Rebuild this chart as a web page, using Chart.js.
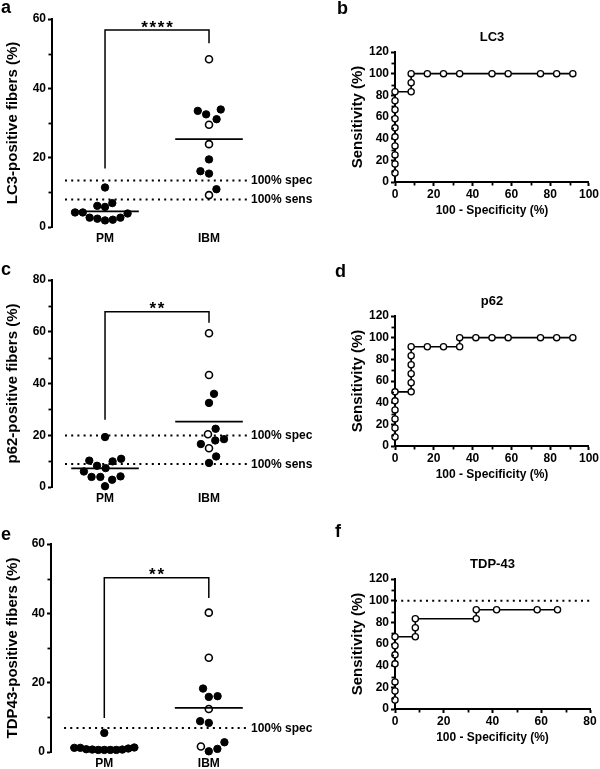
<!DOCTYPE html>
<html>
<head>
<meta charset="utf-8">
<script src="https://cdn.jsdelivr.net/npm/chart.js@4.4.0/dist/chart.umd.min.js"></script>
<style>
html,body{margin:0;padding:0;background:#fff;width:600px;height:769px;overflow:hidden}
body{position:relative}
canvas{position:absolute;display:block}
</style>
</head>
<body>
<canvas id="pa" width="330" height="250" style="left:0;top:0"></canvas>
<canvas id="pc" width="330" height="260" style="left:0;top:250px"></canvas>
<canvas id="pe" width="330" height="259" style="left:0;top:510px"></canvas>
<canvas id="pb" width="300" height="250" style="left:300px;top:0"></canvas>
<canvas id="pd" width="300" height="250" style="left:300px;top:250px"></canvas>
<canvas id="pf" width="300" height="269" style="left:300px;top:500px"></canvas>
<script>
// ---------------- DATA ----------------
const categories = ['PM', 'IBM'];

// Panel a: LC3-positive fibers (%)
const lc3PM        = [11.4, 6.9, 6.1, 5.8, 4.2, 4.2, 3.9, 2.7, 2.7, 2.4, 2.1, 1.9];
const lc3IBMfilled = [33.9, 33.5, 32.5, 31.1, 19.5, 16.1, 15.4, 10.9];
const lc3IBMopen   = [48.4, 29.5, 23.9, 9.2];
const lc3Cutoffs   = [13.4, 7.9];
const lc3CutoffLabels = ['100% spec', '100% sens'];
const lc3Stars = '****';

// Panel c: p62-positive fibers (%)
const p62PM        = [19.3, 10.9, 10.2, 9.9, 8.2, 7.3, 6.0, 4.1, 3.9, 3.9, 2.8, 0.3];
const p62IBMfilled = [36.0, 32.5, 22.5, 18.5, 18.0, 16.6, 11.8, 9.3];
const p62IBMopen   = [59.4, 43.3, 20.4, 15.0];
const p62Cutoffs   = [19.9, 8.9];
const p62CutoffLabels = ['100% spec', '100% sens'];
const p62Stars = '**';

// Panel e: TDP43-positive fibers (%)
const tdpPM        = [5.5, 1.3, 1.2, 1.2, 1.0, 0.8, 0.7, 0.6, 0.6, 0.6, 0.6, 0.7];
const tdpIBMfilled = [18.3, 16.1, 15.9, 8.9, 8.4, 2.8, 0.9, 0.2];
const tdpIBMopen   = [40.2, 27.2, 12.4, 1.6];
const tdpCutoffs   = [6.9];
const tdpCutoffLabels = ['100% spec'];
const tdpStars = '**';

// ROC curves: 100 - Specificity (%) and Sensitivity (%)
const lc3RocFpr = [0, 0, 0, 0, 0, 0, 0, 0, 0, 0, 0, 8.33, 8.33, 8.33, 16.67, 25, 33.33, 50, 58.33, 75, 83.33, 91.67];
const lc3RocTpr = [0, 8.33, 16.67, 25, 33.33, 41.67, 50, 58.33, 66.67, 75, 83.33, 83.33, 91.67, 100, 100, 100, 100, 100, 100, 100, 100, 100];

const p62RocFpr = [0, 0, 0, 0, 0, 0, 0, 8.33, 8.33, 8.33, 8.33, 8.33, 8.33, 16.67, 25, 33.33, 33.33, 41.67, 50, 58.33, 75, 83.33, 91.67];
const p62RocTpr = [0, 8.33, 16.67, 25, 33.33, 41.67, 50, 50, 58.33, 66.67, 75, 83.33, 91.67, 91.67, 91.67, 91.67, 100, 100, 100, 100, 100, 100, 100];

const tdpRocFpr = [0, 0, 0, 0, 0, 0, 0, 0, 8.33, 8.33, 8.33, 33.33, 33.33, 41.67, 58.33, 66.67];
const tdpRocTpr = [0, 8.33, 16.67, 25, 41.67, 50, 58.33, 66.67, 66.67, 75, 83.33, 83.33, 91.67, 91.67, 91.67, 91.67];
const tdpRocRef = [100];

// ---------------- STYLE / HELPERS ----------------
const FAM = '"Liberation Sans", Arial, Helvetica, sans-serif';
Chart.defaults.font.family = FAM;
Chart.defaults.font.weight = 'bold';
Chart.defaults.font.size = 12;
Chart.defaults.color = '#000';
Chart.defaults.animation = false;

const minorTicks = {
  id: 'minorTicks',
  afterDraw(chart, args, opts) {
    const ctx = chart.ctx, a = chart.chartArea;
    ctx.save();
    ctx.strokeStyle = '#000';
    ctx.lineWidth = 1.8;
    if (opts.y) {
      const s = chart.scales.y;
      for (let v = s.min + opts.y; v < s.max; v += 2 * opts.y) {
        const py = Math.round(s.getPixelForValue(v)) + 0.5;
        ctx.beginPath(); ctx.moveTo(a.left - 1, py); ctx.lineTo(a.left - 1 - opts.len, py); ctx.stroke();
      }
    }
    if (opts.x) {
      const s = chart.scales.x;
      for (let v = s.min + opts.x; v < s.max; v += 2 * opts.x) {
        const px = Math.round(s.getPixelForValue(v)) + 0.5;
        ctx.beginPath(); ctx.moveTo(px, a.bottom + 1); ctx.lineTo(px, a.bottom + 1 + opts.len); ctx.stroke();
      }
    }
    ctx.restore();
  }
};

const deco = {
  id: 'deco',
  afterDraw(chart, args, opts) {
    if (opts.draw) { chart.ctx.save(); opts.draw(chart, chart.ctx); chart.ctx.restore(); }
  }
};

function letter(ctx, t, x, y) {
  ctx.font = 'bold 18px ' + FAM;
  ctx.fillStyle = '#000';
  ctx.textAlign = 'left';
  ctx.textBaseline = 'alphabetic';
  ctx.fillText(t, x, y);
}

// column-scatter layout: elliptical collision, then compress into the column width
function beeswarm(chart, dsIdx, center, dX, dY, maxHalf) {
  const xs = chart.scales.x, ys = chart.scales.y;
  const ppu = xs.getPixelForValue(center + 1) - xs.getPixelForValue(center);
  const pts = [];
  dsIdx.forEach(di => chart.data.datasets[di].data.forEach((p, j) => pts.push({ di, j, y: ys.getPixelForValue(p.y) })));
  pts.sort((a, b) => b.y - a.y);
  const placed = [];
  let flip = 1;
  const hits = (c, p) => placed.some(q => ((q.x - c) / dX) ** 2 + ((q.y - p.y) / dY) ** 2 < 0.999);
  pts.forEach(p => {
    const cands = [0];
    placed.forEach(q => {
      const dy = Math.abs(q.y - p.y);
      if (dy < dY) { const dx = dX * Math.sqrt(1 - (dy / dY) ** 2); cands.push(q.x + dx, q.x - dx); }
    });
    cands.sort((a, b) => (Math.abs(a) - Math.abs(b)) || (flip * (b - a)));
    const ok = cands.find(c => !hits(c, p));
    p.x = ok;
    if (ok !== 0) flip = -flip;
    placed.push(p);
  });
  const m = Math.max(...pts.map(p => Math.abs(p.x)));
  const k = m > maxHalf ? maxHalf / m : 1;
  pts.forEach(p => { chart.data.datasets[p.di].data[p.j].x = center + k * p.x / ppu; });
}

const mean = a => a.reduce((s, v) => s + v, 0) / a.length;

function scatterPanel(id, c) {
  const W = 330;
  const hw = 0.325;
  const filled = { pointRadius: 3.7, pointBackgroundColor: '#000', pointBorderColor: '#000', pointBorderWidth: 1, showLine: false, order: 1, clip: false };
  const datasets = [
    Object.assign({ data: c.pm.map(v => ({ x: 1, y: v })) }, filled),
    Object.assign({ data: c.ibmF.map(v => ({ x: 2, y: v })) }, filled),
    { data: c.ibmO.map(v => ({ x: 2, y: v })), pointRadius: 3.5, pointBackgroundColor: '#fff', pointBorderColor: '#000', pointBorderWidth: 1.6, showLine: false, order: 1, clip: false },
    { data: [{ x: 1 - hw, y: mean(c.pm) }, { x: 1 + hw, y: mean(c.pm) }], showLine: true, borderColor: '#000', borderWidth: 1.8, pointRadius: 0, order: 0, clip: false },
    { data: [{ x: 2 - hw, y: mean(c.ibmF.concat(c.ibmO)) }, { x: 2 + hw, y: mean(c.ibmF.concat(c.ibmO)) }], showLine: true, borderColor: '#000', borderWidth: 1.8, pointRadius: 0, order: 0, clip: false },
    { data: [{ x: 1, y: c.bracket[0] }, { x: 1, y: c.bracket[1] }, { x: 2, y: c.bracket[1] }, { x: 2, y: c.bracket[2] }], showLine: true, borderColor: '#000', borderWidth: 1.5, pointRadius: 0, order: 2, clip: false, borderJoinStyle: 'miter' },
  ];
  c.cut.forEach(v => datasets.push({ data: [{ x: 0.615, y: v }, { x: 2.375, y: v }], showLine: true, borderColor: '#000', borderWidth: 2, borderDash: [2, 4.2], pointRadius: 0, order: 2, clip: false }));

  const chart = new Chart(document.getElementById(id), {
    type: 'scatter',
    data: { datasets },
    plugins: [minorTicks, deco],
    options: {
      responsive: false,
      animation: false,
      events: [],
      layout: { padding: { left: 0, top: c.area.top, right: W - c.area.right, bottom: 0 } },
      scales: {
        x: {
          type: 'linear', min: 0.49, max: 2.375,
          grid: { display: false, drawTicks: false },
          border: { display: false },
          afterBuildTicks: s => { s.ticks = categories.map((_, i) => ({ value: i + 1 })); },
          afterFit: s => { s.height = c.H - c.area.bottom; },
          ticks: { autoSkip: false, maxRotation: 0, padding: 4, font: { size: 12, weight: 'bold' }, callback: v => categories[Math.round(v) - 1] }
        },
        y: {
          min: 0, max: c.yMax,
          grid: { display: true, drawOnChartArea: false, drawTicks: true, tickLength: 4, tickWidth: 2, tickColor: '#000' },
          border: { display: true, width: 2, color: '#000' },
          afterFit: s => { s.width = c.area.left; },
          ticks: { stepSize: 20, padding: 2, font: { size: 12, weight: 'bold' } },
          title: { display: true, text: c.yTitle, font: { size: 15, weight: 'bold' }, padding: { top: 4, bottom: 0 } }
        }
      },
      plugins: {
        legend: { display: false },
        tooltip: { enabled: false },
        minorTicks: { y: 10, len: 2.5 },
        deco: {
          draw: (ch, ctx) => {
            const xs = ch.scales.x, ys = ch.scales.y, a = ch.chartArea;
            letter(ctx, c.letter, 1, c.letterY);
            ctx.font = 'bold 12px ' + FAM;
            ctx.fillStyle = '#000';
            ctx.textAlign = 'left';
            ctx.textBaseline = 'middle';
            c.cut.forEach((v, i) => ctx.fillText(c.cutLabels[i], a.right + 3, ys.getPixelForValue(v) + 0.5));
            ctx.font = 'bold 17px ' + FAM;
            ctx.textAlign = 'center';
            ctx.textBaseline = 'alphabetic';
            const cx = xs.getPixelForValue(1.5);
            const cy = ys.getPixelForValue(c.bracket[1]) - 7.5;
            const n = c.stars.length;
            for (let i = 0; i < n; i++) ctx.fillText('*', cx + (i - (n - 1) / 2) * 8.3, cy + 10);
          }
        }
      }
    }
  });
  beeswarm(chart, [0], 1, 8.8, 11, 30);
  beeswarm(chart, [1, 2], 2, 8.8, 11, 30);
  chart.update('none');
  return chart;
}

function rocPanel(id, c) {
  const W = 300, xh = 38;
  const datasets = [
    {
      data: c.fpr.map((x, i) => ({ x, y: c.tpr[i] })),
      showLine: true, borderColor: '#000', borderWidth: 1.6,
      pointRadius: ctx => (ctx.raw && ctx.raw.x === 0 && ctx.raw.y === 0) ? 0 : 3.1,
      pointBackgroundColor: '#fff', pointBorderColor: '#000', pointBorderWidth: 1.3,
      clip: false, order: 0
    }
  ];
  (c.ref || []).forEach(v => datasets.push({ data: [{ x: 0, y: v }, { x: c.xMax, y: v }], showLine: true, borderColor: '#000', borderWidth: 2, borderDash: [2, 4.2], pointRadius: 0, clip: false, order: 1 }));
  return new Chart(document.getElementById(id), {
    type: 'scatter',
    data: { datasets },
    plugins: [minorTicks, deco],
    options: {
      responsive: false,
      animation: false,
      events: [],
      layout: { padding: { left: 49, top: c.area.top, right: W - 290, bottom: c.H - c.area.bottom - xh } },
      scales: {
        x: {
          min: 0, max: c.xMax,
          grid: { display: true, drawOnChartArea: false, drawTicks: true, tickLength: 4, tickWidth: 2, tickColor: '#000' },
          border: { display: true, width: 2, color: '#000' },
          afterFit: s => { s.height = xh; },
          ticks: { stepSize: 20, padding: 1, maxRotation: 0, autoSkip: false, font: { size: 12, weight: 'bold' } },
          title: { display: true, text: '100 - Specificity (%)', font: { size: 12, weight: 'bold' }, padding: { top: 0, bottom: xh - 28.5 - 7.2 } }
        },
        y: {
          min: 0, max: 120,
          grid: { display: true, drawOnChartArea: false, drawTicks: true, tickLength: 4, tickWidth: 2, tickColor: '#000' },
          border: { display: true, width: 2, color: '#000' },
          afterFit: s => { s.width = 46; },
          ticks: { stepSize: 20, padding: 2, font: { size: 12, weight: 'bold' } },
          title: { display: true, text: 'Sensitivity (%)', font: { size: 15, weight: 'bold' }, padding: { top: 0, bottom: 0 } }
        }
      },
      plugins: {
        legend: { display: false },
        tooltip: { enabled: false },
        minorTicks: { x: 10, y: 10, len: 2.5 },
        deco: {
          draw: (ch, ctx) => {
            const a = ch.chartArea;
            letter(ctx, c.letter, c.letterX, c.letterY);
            ctx.font = 'bold 13px ' + FAM;
            ctx.fillStyle = '#000';
            ctx.textAlign = 'center';
            ctx.textBaseline = 'middle';
            ctx.fillText(c.title, (a.left + a.right) / 2, a.top - 15);
          }
        }
      }
    }
  });
}

scatterPanel('pa', { pm: lc3PM, ibmF: lc3IBMfilled, ibmO: lc3IBMopen, cut: lc3Cutoffs, cutLabels: lc3CutoffLabels, stars: lc3Stars,
  bracket: [16.9, 56.8, 53.0], yMax: 60, yTitle: 'LC3-positive fibers (%)', letter: 'a', letterY: 13,
  H: 250, area: { left: 52, right: 248, top: 19, bottom: 227 } });
scatterPanel('pc', { pm: p62PM, ibmF: p62IBMfilled, ibmO: p62IBMopen, cut: p62Cutoffs, cutLabels: p62CutoffLabels, stars: p62Stars,
  bracket: [26.0, 67.7, 63.5], yMax: 80, yTitle: 'p62-positive fibers (%)', letter: 'c', letterY: 25,
  H: 260, area: { left: 52, right: 248, top: 30, bottom: 237 } });
scatterPanel('pe', { pm: tdpPM, ibmF: tdpIBMfilled, ibmO: tdpIBMopen, cut: tdpCutoffs, cutLabels: tdpCutoffLabels, stars: tdpStars,
  bracket: [9.8, 50.3, 44.4], yMax: 60, yTitle: 'TDP43-positive fibers (%)', letter: 'e', letterY: 30,
  H: 259, area: { left: 51, right: 248, top: 34, bottom: 242 } });

rocPanel('pb', { fpr: lc3RocFpr, tpr: lc3RocTpr, xMax: 100, title: 'LC3', letter: 'b', letterX: 37, letterY: 14, H: 250, area: { top: 52, bottom: 182 } });
rocPanel('pd', { fpr: p62RocFpr, tpr: p62RocTpr, xMax: 100, title: 'p62', letter: 'd', letterX: 35, letterY: 27, H: 250, area: { top: 66, bottom: 196 } });
rocPanel('pf', { fpr: tdpRocFpr, tpr: tdpRocTpr, ref: tdpRocRef, xMax: 80, title: 'TDP-43', letter: 'f', letterX: 35, letterY: 37, H: 269, area: { top: 79, bottom: 209 } });
</script>
</body>
</html>
